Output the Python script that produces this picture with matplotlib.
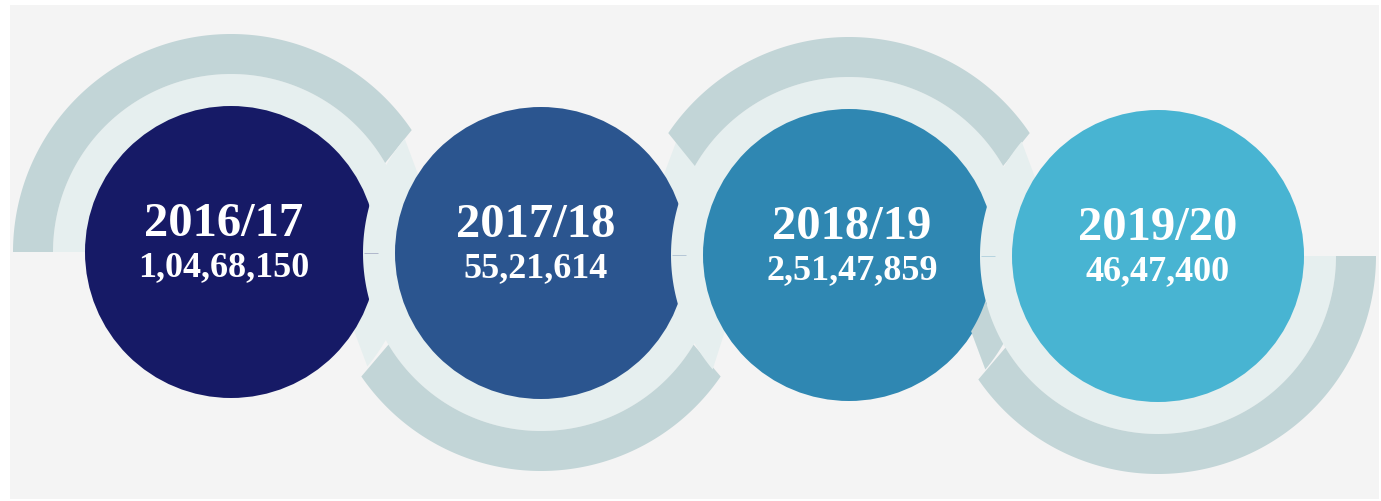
import matplotlib
matplotlib.use("Agg")
import numpy as np
import matplotlib.pyplot as plt
from matplotlib.patches import Circle, Rectangle, Polygon

# Data
years = ["2016/17", "2017/18", "2018/19", "2019/20"]
values = ["1,04,68,150", "55,21,614", "2,51,47,859", "46,47,400"]
disc_colors = ["#161a66", "#2b558f", "#2f87b2", "#48b4d2"]

# Layout / style (pixel coordinates, y downward)
W, H = 1381, 502
centers_x = [231, 541, 849, 1158]
centers_y = [253, 254, 256, 257]
text_dx = [-7, -5, 3, 0]
R_DISC = 146
R_LIGHT = 178
R_DARK = 218
light_col = "#e6efef"
dark_col = "#c2d5d7"
bg_col = "#f4f4f4"
# angular extents, counter-clockwise (visual), as ((inner_start, outer_start), (inner_end, outer_end))
light_span = [((-32, -40), (180, 180)),
              ((148, 140), (392, 400)),
              ((-32, -40), (211, 220)),
              ((148, 140), (360, 360))]
dark_span = [((30, 34), (180, 180)),
             ((211, 214.5), (329, 325.5)),
             ((30, 34), (150, 146)),
             ((211, 214.5), (360, 360))]


def sector(cx, cy, r_in, r_out, span):
    (a_in0, a_out0), (a_in1, a_out1) = span
    to = np.radians(np.linspace(a_out0, a_out1, 200))
    ti = np.radians(np.linspace(a_in1, a_in0, 200))
    xo = cx + r_out * np.cos(to)
    yo = cy - r_out * np.sin(to)
    xi = cx + r_in * np.cos(ti)
    yi = cy - r_in * np.sin(ti)
    return np.column_stack([np.r_[xo, xi], np.r_[yo, yi]])


fig = plt.figure(figsize=(W / 100, H / 100), dpi=100)
fig.patch.set_facecolor("white")
ax = fig.add_axes([0, 0, 1, 1])
ax.set_xlim(0, W)
ax.set_ylim(H, 0)
ax.set_aspect("equal")
ax.axis("off")

panel = Rectangle((10, 6), 1369, 494, facecolor=bg_col, edgecolor="none", zorder=0)
ax.add_patch(panel)

light_patches = []
for i, (cx, cy) in enumerate(zip(centers_x, centers_y)):
    z = 1 + i * 3
    light = Polygon(sector(cx, cy, R_DISC - 2, R_LIGHT, light_span[i]),
                    closed=True, facecolor=light_col, edgecolor="none", zorder=z)
    ax.add_patch(light)
    light_patches.append(light)
    dark = Polygon(sector(cx, cy, R_LIGHT, R_DARK, dark_span[i]),
                   closed=True, facecolor=dark_col, edgecolor="none", zorder=z + 0.5)
    ax.add_patch(dark)
    if i == len(centers_x) - 1:
        # dark band visible only over the previous circle's light ring
        ext = Polygon(sector(cx, cy, R_LIGHT, R_DARK, ((190, 190), (216, 216))),
                      closed=True, facecolor=dark_col, edgecolor="none", zorder=z + 0.4)
        ax.add_patch(ext)
        ext.set_clip_path(light_patches[i - 1])
    if i > 0:
        ax.plot([cx - R_LIGHT + 1, cx - R_LIGHT + 15], [cy, cy],
                color=disc_colors[i - 1], lw=0.6, alpha=0.3, zorder=z + 0.6,
                solid_capstyle="butt")
    disc = Circle((cx, cy), R_DISC, facecolor=disc_colors[i], edgecolor="none",
                  zorder=z + 1)
    ax.add_patch(disc)
    ax.text(cx + text_dx[i], cy - 29, years[i], ha="center", va="center",
            color="white", fontsize=35, fontweight="bold",
            family="Liberation Serif", zorder=z + 2)
    ax.text(cx + text_dx[i], cy + 15, values[i], ha="center", va="center",
            color="white", fontsize=26, fontweight="bold",
            family="Liberation Serif", zorder=z + 2)

fig.savefig("out.png", dpi=100, facecolor="white")
